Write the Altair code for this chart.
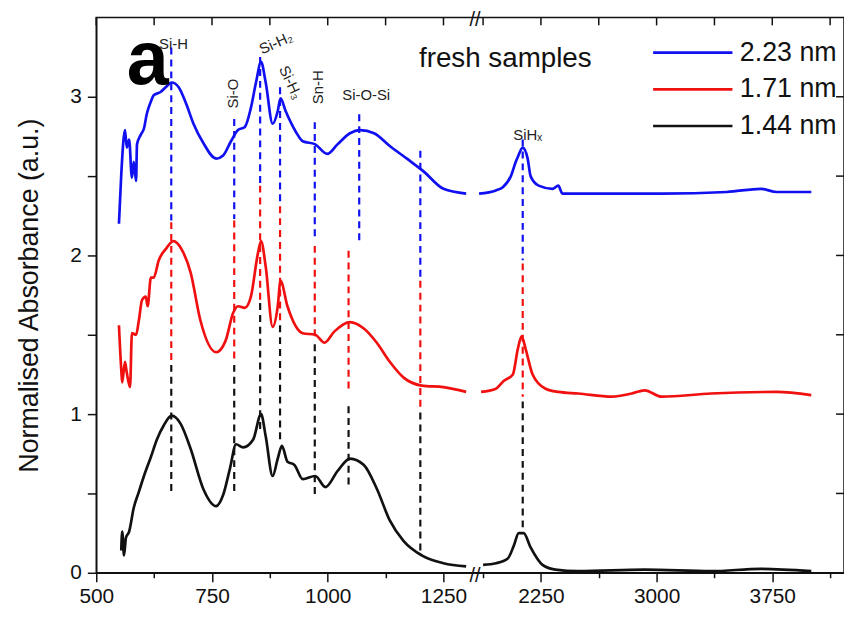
import altair as alt
import pandas as pd

FONT = "Liberation Sans"

series_names = ["2.23 nm", "1.71 nm", "1.44 nm"]
series_colors = ["#1010f0", "#f01010", "#111111"]

# ---- spectra (wavenumber cm-1, normalised absorbance) ----
wn_223 = [549, 554, 562, 566, 571, 577, 581, 586, 588, 596, 603, 609, 618, 624, 639, 650, 663, 678, 695, 710,
          731, 759, 774, 791, 806, 821, 834, 845, 856, 866, 881, 892, 898, 909, 931, 946, 973, 999, 1021, 1048,
          1070, 1100, 1134, 1171, 1207, 1250, 1299,
          1849, 1958, 2003, 2055, 2087, 2100, 2132, 2164, 2183, 2235, 2325, 2363, 2389, 2601, 3032, 3456, 3675,
          3778, 4003]
abs_223 = [2.20, 2.51, 2.79, 2.68, 2.73, 2.49, 2.59, 2.47, 2.70, 2.76, 2.80, 2.89, 2.97, 3.01, 3.03, 3.06, 3.09,
           3.06, 2.95, 2.83, 2.71, 2.61, 2.63, 2.72, 2.79, 2.81, 2.93, 3.09, 3.22, 3.09, 2.83, 2.91, 2.99, 2.91,
           2.78, 2.72, 2.70, 2.64, 2.70, 2.77, 2.79, 2.77, 2.69, 2.61, 2.53, 2.42, 2.39,
           2.39, 2.41, 2.43, 2.50, 2.59, 2.62, 2.68, 2.61, 2.50, 2.44, 2.42, 2.44, 2.39, 2.39, 2.39, 2.40, 2.42,
           2.40, 2.40]

wn_171 = [549, 554, 556, 562, 566, 573, 577, 586, 592, 599, 607, 611, 618, 624, 635, 650, 667, 684, 704, 725,
          759, 779, 796, 806, 821, 834, 849, 856, 866, 881, 892, 898, 913, 946, 973, 993, 1014, 1048, 1078, 1106,
          1134, 1164, 1203, 1250, 1299,
          1862, 1958, 2010, 2068, 2100, 2125, 2151, 2196, 2280, 2363, 2492, 2710, 2839, 2923, 3032, 3353, 3778,
          4003]
abs_171 = [1.56, 1.28, 1.20, 1.33, 1.26, 1.17, 1.51, 1.50, 1.59, 1.72, 1.74, 1.68, 1.86, 1.86, 1.97, 2.04, 2.09,
           2.04, 1.89, 1.59, 1.39, 1.46, 1.64, 1.68, 1.67, 1.74, 2.01, 2.09, 1.93, 1.55, 1.68, 1.84, 1.68, 1.51,
           1.50, 1.45, 1.52, 1.58, 1.54, 1.45, 1.33, 1.23, 1.18, 1.17, 1.14,
           1.14, 1.16, 1.21, 1.25, 1.41, 1.49, 1.41, 1.25, 1.16, 1.14, 1.13, 1.11, 1.13, 1.15, 1.11, 1.13, 1.14,
           1.12]

wn_144 = [554, 556, 560, 564, 571, 581, 592, 603, 618, 631, 646, 663, 682, 704, 731, 759, 774, 789, 802, 817,
          839, 856, 866, 881, 892, 901, 913, 928, 946, 973, 995, 1021, 1048, 1078, 1106, 1134, 1164, 1203, 1250,
          1299,
          1875, 1958, 2035, 2074, 2106, 2138, 2183, 2260, 2344, 2492, 2923, 3353, 3675, 4003]
abs_144 = [0.14, 0.26, 0.11, 0.22, 0.26, 0.41, 0.51, 0.61, 0.73, 0.84, 0.93, 0.99, 0.94, 0.78, 0.53, 0.42, 0.49,
           0.66, 0.81, 0.79, 0.84, 1.00, 0.86, 0.61, 0.72, 0.80, 0.70, 0.68, 0.59, 0.61, 0.54, 0.64, 0.72, 0.68,
           0.53, 0.33, 0.20, 0.11, 0.06, 0.04,
           0.05, 0.06, 0.09, 0.17, 0.25, 0.25, 0.16, 0.05, 0.02, 0.01, 0.02, 0.01, 0.025, 0.01]

# ---- dashed peak markers: (wavenumber, top, bottom, series) ----
mark_wn = [662, 662, 662, 798, 798, 798, 854, 854, 854, 897, 897, 897, 972, 972, 972,
           1068, 1045, 1045, 1200, 1200, 1200, 2132, 2132, 2132]
mark_top = [3.31, 2.21, 1.31, 2.86, 2.22, 1.31, 3.25, 2.44, 1.70, 3.06, 2.31, 1.56, 2.84, 2.06, 1.44,
            2.89, 2.03, 1.05, 2.66, 1.84, 1.01, 2.73, 1.95, 1.08]
mark_bot = [2.22, 1.33, 0.50, 2.23, 1.33, 0.50, 2.45, 1.72, 0.89, 2.33, 1.58, 0.83, 2.11, 1.46, 0.49,
            2.08, 1.16, 0.55, 1.86, 1.03, 0.14, 1.97, 1.11, 0.26]
mark_series = ["2.23 nm", "1.71 nm", "1.44 nm"] * 8

# ---- peak labels ----
peak_text = ["Si-H", "Si-O", "Si-H₂", "Si-H₃", "Sn-H", "Si-O-Si", "SiHₓ"]
peak_x = [667, 796, 888, 920, 978, 1083, 2164]
peak_y = [3.33, 3.02, 3.34, 3.09, 3.06, 3.01, 2.76]
peak_angle = [0, 270, 336, 65, 270, 0, 0]

x_major = [500, 750, 1000, 1250, 2250, 3000, 3750]
x_minor = [625, 875, 1125, 1875, 2625, 3375, 4125]
y_ticks = [0, 0.5, 1, 1.5, 2, 2.5, 3]

# ---- scales / geometry ----
W, H = 754, 560
X_DOMAIN = [500, 1314, 1836, 4215]
X_RANGE = [0, 380, 384, 754]
Y_DOMAIN = [0, 3.5]
xs = alt.Scale(domain=X_DOMAIN, range=X_RANGE, nice=False, zero=False)
ys = alt.Scale(domain=Y_DOMAIN, nice=False, zero=False)
color = alt.Scale(domain=series_names, range=series_colors)
IN_TICK = 8  # px, inward ticks on the mirrored (top/right) edges
y_per_px = (Y_DOMAIN[1] - Y_DOMAIN[0]) / H
x_per_px_right = (X_DOMAIN[3] - X_DOMAIN[2]) / (X_RANGE[3] - X_RANGE[2])

# ---- build tables ----
rows = []
for name, wns, vals in [("2.23 nm", wn_223, abs_223), ("1.71 nm", wn_171, abs_171), ("1.44 nm", wn_144, abs_144)]:
    for w, a in zip(wns, vals):
        seg = "low" if w < 1500 else "high"
        rows.append({"wn": w, "a": a, "series": name, "seg": name + seg})
df = pd.DataFrame(rows)

marks_df = pd.DataFrame({"wn": mark_wn, "top": mark_top, "bot": mark_bot, "series": mark_series})
peaks_df = pd.DataFrame({"t": peak_text, "wn": peak_x, "y": peak_y, "ang": peak_angle})

all_x_ticks = sorted(x_major + x_minor)
top_ticks_df = pd.DataFrame({"wn": all_x_ticks, "y1": [Y_DOMAIN[1]] * len(all_x_ticks),
                             "y2": [Y_DOMAIN[1] - IN_TICK * y_per_px] * len(all_x_ticks)})
right_ticks_df = pd.DataFrame({"v": y_ticks, "x1": [X_DOMAIN[3]] * len(y_ticks),
                               "x2": [X_DOMAIN[3] - IN_TICK * x_per_px_right] * len(y_ticks)})

major_test = "(datum.value <= 1250 && datum.value % 250 == 0) || (datum.value >= 2250 && datum.value % 750 == 0)"
AX = dict(domainColor="#111", domainWidth=1.5, tickColor="#111", tickWidth=1.5, grid=False)

x_bottom = alt.Axis(
    orient="bottom", values=all_x_ticks, format="d",
    labelExpr=f"({major_test}) ? datum.label : ''",
    tickSize={"condition": {"test": major_test, "value": 9}, "value": 5},
    labelFont=FONT, labelFontSize=21, labelColor="#111", labelPadding=4, labelOverlap=False,
    labelFlush=False, title=None, **AX,
)
y_left = alt.Axis(
    orient="left", values=y_ticks, labelExpr="datum.value % 1 == 0 ? format(datum.value, 'd') : ''",
    tickSize=9, labelFont=FONT, labelFontSize=21, labelColor="#111", labelPadding=6, labelFlush=False,
    title="Normalised Absorbance (a.u.)", titleFont=FONT, titleFontSize=27, titleFontWeight="normal",
    titleColor="#111", titleX=-67, titleY=H / 2, titleAngle=270, titleAlign="center", titleBaseline="middle",
    **AX,
)


def X(field):
    return alt.X(field, type="quantitative", scale=xs, axis=x_bottom)


def Y(field):
    return alt.Y(field, type="quantitative", scale=ys, axis=y_left)


lines = alt.Chart(df).mark_line(strokeWidth=2.7, clip=True, interpolate="monotone").encode(
    x=X("wn"),
    y=Y("a"),
    color=alt.Color("series:N", scale=color, sort=series_names,
                    legend=alt.Legend(title=None, orient="none", legendX=588, legendY=22,
                                      symbolType="M-4,0H4", symbolSize=400, symbolStrokeWidth=2.6,
                                      labelFont=FONT, labelFontSize=27, labelColor="#111",
                                      labelOffset=34, rowPadding=9)),
    detail="seg:N",
    order="wn:Q",
)

dashes = alt.Chart(marks_df).mark_rule(strokeWidth=2.2, strokeDash=[7, 5]).encode(
    x=X("wn"), y=Y("top"), y2="bot:Q",
    color=alt.Color("series:N", scale=color, legend=None),
)

top_ticks = alt.Chart(top_ticks_df).mark_rule(color="#111", strokeWidth=1.5).encode(
    x=X("wn"), y=Y("y1"), y2="y2:Q",
)
right_ticks = alt.Chart(right_ticks_df).mark_rule(color="#111", strokeWidth=1.5).encode(
    x=X("x1"), x2="x2:Q", y=Y("v"),
)

peak_labels = alt.Chart(peaks_df).mark_text(font=FONT, fontSize=15, color="#222",
                                            align="center", baseline="middle").encode(
    x=X("wn"), y=Y("y"), text="t:N",
    angle=alt.Angle("ang:Q", scale=None),
)

note_text = ["a", "fresh samples"]
note_x = [611, 2019]
note_y = [3.08, 3.19]
notes_df = pd.DataFrame({"t": note_text, "wn": note_x, "y": note_y})
note_a = alt.Chart(notes_df.iloc[[0]]).mark_text(font=FONT, fontSize=76, fontWeight="bold", color="#000",
                                                 align="center", baseline="alphabetic").encode(
    x=X("wn"), y=Y("y"), text="t:N")
note_fresh = alt.Chart(notes_df.iloc[[1]]).mark_text(font=FONT, fontSize=28, color="#111",
                                                     align="center", baseline="alphabetic").encode(
    x=X("wn"), y=Y("y"), text="t:N")

break_df = pd.DataFrame({"wn": [1575, 1575], "y": [0.0, 3.5], "t": ["//", "//"]})
breaks = alt.Chart(break_df).mark_text(font=FONT, fontSize=20, color="#111", align="center",
                                       baseline="middle", dy=3, clip=False).encode(
    x=X("wn"), y=Y("y"), text="t:N")

chart = alt.layer(lines, dashes, top_ticks, right_ticks, peak_labels, note_a, note_fresh, breaks).properties(
    width=W, height=H,
    autosize=alt.AutoSizeParams(type="none"),
    padding={"left": 89, "top": 7, "right": 0, "bottom": 35},
    background="white",
).configure_view(stroke="#111", strokeWidth=1.5)

chart.save("out.html", embed_options={"renderer": "svg", "actions": False})
